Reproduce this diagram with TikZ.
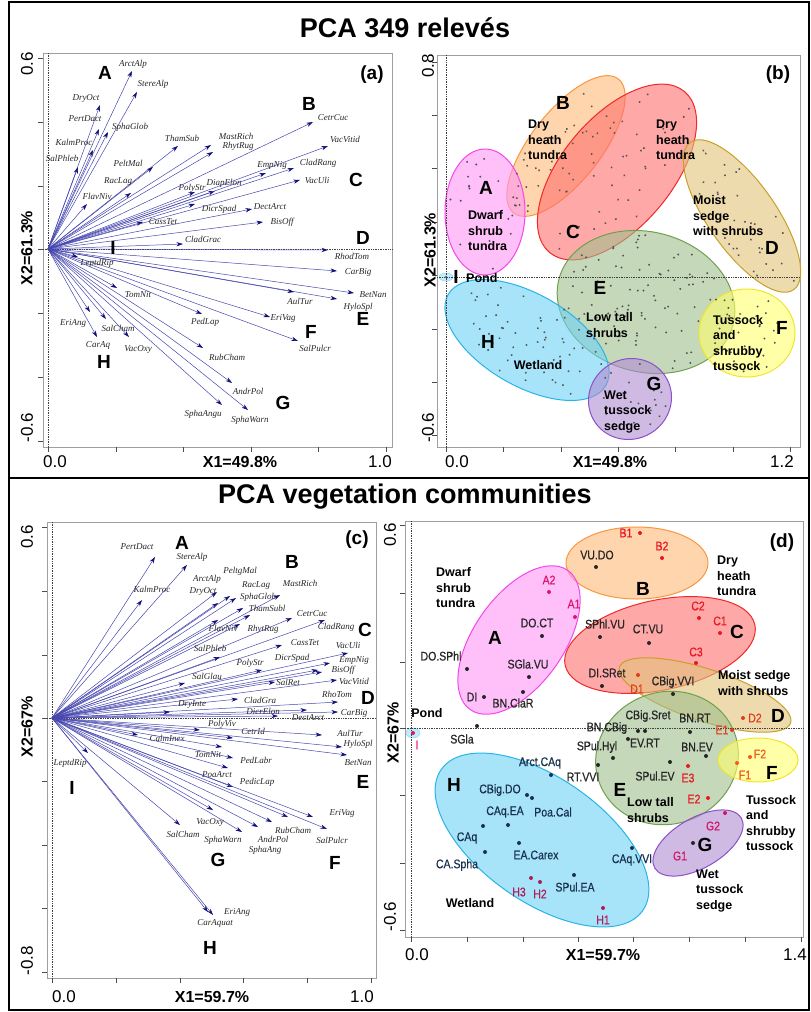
\documentclass[tikz,border=0pt]{standalone}
\usepackage{fontspec}
\setmainfont{Liberation Sans}
\newfontfamily\spfont{Liberation Serif}
\newfontfamily\lblfont{Liberation Sans}[FakeStretch=0.84,FakeBold=0.6]
\usetikzlibrary{arrows.meta}
\definecolor{vecline}{RGB}{70,70,175}
\definecolor{vechead}{RGB}{15,15,120}
\definecolor{ptgray}{RGB}{85,85,85}
\definecolor{fA}{RGB}{255,150,245}\definecolor{dA}{RGB}{245,70,235}
\definecolor{fB}{RGB}{255,185,120}\definecolor{dB}{RGB}{250,150,60}
\definecolor{fC}{RGB}{255,110,110}\definecolor{dC}{RGB}{240,40,40}
\definecolor{fD}{RGB}{225,195,120}\definecolor{dD}{RGB}{200,160,40}
\definecolor{fE}{RGB}{160,190,140}\definecolor{dE}{RGB}{110,160,80}
\definecolor{fF}{RGB}{255,255,110}\definecolor{dF}{RGB}{240,230,40}
\definecolor{fG}{RGB}{175,140,210}\definecolor{dG}{RGB}{140,80,200}
\definecolor{fH}{RGB}{110,210,245}\definecolor{dH}{RGB}{40,180,230}
\definecolor{tA}{RGB}{225,20,110}
\definecolor{tC}{RGB}{230,25,35}
\definecolor{tD}{RGB}{225,60,30}
\definecolor{tF}{RGB}{245,90,30}
\definecolor{tG}{RGB}{210,20,100}
\definecolor{tH}{RGB}{170,30,90}
\definecolor{hblue}{RGB}{25,50,80}
\tikzstyle{vec} = [-{Stealth[length=6.5pt,width=4.2pt,color=vechead]},line width=0.5pt,draw=vecline]

\begin{document}
\begin{tikzpicture}[x=1pt,y=-1pt,
    sp/.style={font=\spfont\itshape\fontsize{9}{10}\selectfont, text=black!85, inner sep=0pt},
    grp/.style={font=\bfseries\fontsize{19}{20}\selectfont, inner sep=0pt},
    ttl/.style={font=\bfseries\fontsize{27}{30}\selectfont, inner sep=0pt},
    axn/.style={font=\fontsize{17}{18}\selectfont, inner sep=0pt},
    axl/.style={font=\bfseries\fontsize{16}{18}\selectfont, inner sep=0pt},
    pan/.style={font=\bfseries\fontsize{19}{20}\selectfont, inner sep=0pt},
    dsc/.style={font=\bfseries\fontsize{12.5}{15.5}\selectfont, align=left, anchor=west, inner sep=0pt},
    cl/.style={font=\lblfont\fontsize{12.5}{14}\selectfont, inner sep=0pt, text=black!85},
    pdot/.style={circle, fill, inner sep=0pt, minimum size=4pt},
    plotbox/.style={draw=gray!75, line width=0.8pt},
    tick/.style={line width=0.7pt, gray!60!black},
    zero/.style={densely dotted, line width=0.7pt, black!75},
    blob/.style={line width=1pt, fill opacity=0.6},
  ]
\useasboundingbox (0,0) rectangle (811,1012);

% outer frame
\draw[line width=2pt] (9,2) rectangle (809,1010);
\draw[line width=2pt] (9,478) -- (809,478);
\node[ttl] (t1) at (405,28) {PCA 349 relevés};
\node[ttl] (t2) at (405,497) {PCA vegetation communities};

%%%%% (a) species vectors, relevés
\draw[plotbox] (43,53) rectangle (392,447);
\foreach \t in {58,122,186,249,313,377,441} \draw[tick] (43,\t) -- (38,\t);
\foreach \t in {48,116,183,251,318,386} \draw[tick] (\t,447) -- (\t,452);
\draw[zero] (48,53) -- (48,447);
\draw[zero] (43,249) -- (392,249);
\node[axn,rotate=90] (ay1) at (27,64) {0.6};
\node[axn,rotate=90] (ay2) at (27,428) {-0.6};
\node[axl,rotate=90] (ayl) at (27,248) {X2=61.3\%};
\node[axn] (ax1) at (55,462) {0.0};
\node[axl] (axl) at (240,462) {X1=49.8\%};
\node[axn] (ax2) at (380,462) {1.0};
\node[pan] (pa) at (372,75) {(a)};

\coordinate (oa) at (48,249);
\foreach \nm/\ex/\ey/\lx/\ly in {
    ArctAlp/132/71/133/64, StereAlp/137/92/153/84, DryOct/100/105/86/98, PertDact/99/129/85/119,
    SphaGlob/108/132/130/127, KalmProc/93/150/74/142, SalPhleb/78/167/62/158, ThamSub/178/146/182/138,
    MastRich/211/145/236/136, RhytRug/213/152/238/146, PeltMal/153/167/128/163, RacLag/131/193/118/182,
    FlavNiv/87/204/97/196, PolyStr/195/192/192/188, DiapElon/215/191/224/183, DicrSpad/195/204/219/209,
    CassTet/143/222/163/222, CladGrac/183/244/203/239, CetrCuc/313/122/333/118, VacVitid/328/146/345/139,
    EmpNig/266/173/272/165, CladRang/294/168/318/163, VacUli/300/180/317/180, DectArct/252/209/270/207,
    BisOff/263/222/282/222, RhodTom/328/250/352/256, CarBig/337/271/358/272, BetNan/354/293/373/295,
    HyloSpl/337/299/358/307, AulTur/294/292/300/301, EriVag/270/317/283/318, SalPulcr/298/341/315/348,
    RubCham/203/348/227/357, AndrPol/232/383/248/391, SphaWarn/248/410/250/420, SphaAngu/222/405/203/414,
    LeptdRip/78/257/97/263, TomNit/117/288/138/295, PedLap/202/314/205/322, EriAng/90/312/73/323,
    SalCham/106/319/118/328, CarAq/97/337/98/345, VacOxy/129/337/138/349}
{
    \coordinate (a\nm) at (\ex,\ey);
    \draw[vec] (oa) -- (a\nm);
    \node[sp] (la\nm) at (\lx,\ly) {\nm};
}
\node[grp] (gaA) at (105,73) {A};
\node[grp] (gaB) at (309,104) {B};
\node[grp] (gaC) at (356,180) {C};
\node[grp] (gaD) at (363,238) {D};
\node[grp] (gaE) at (363,319) {E};
\node[grp] (gaF) at (311,332) {F};
\node[grp] (gaG) at (283,403) {G};
\node[grp] (gaH) at (104,362) {H};
\node[grp] (gaI) at (113,248) {I};

%%%%% (b) relevé scores
\draw[plotbox] (437,55) rectangle (800,447);
\foreach \t in {62,115,168,222,275,329,382,435} \draw[tick] (437,\t) -- (432,\t);
\foreach \t in {446,503,561,618,675,733,790} \draw[tick] (\t,447) -- (\t,452);
\node[axn,rotate=90] (by1) at (428,66) {0.8};
\node[axn,rotate=90] (by2) at (428,428) {-0.6};
\node[axl,rotate=90] (byl) at (430,250) {X2=61.3\%};
\node[axn] (bx1) at (457,462) {0.0};
\node[axl] (bxl) at (610,462) {X1=49.8\%};
\node[axn] (bx2) at (782,462) {1.2};
\node[pan] (pb) at (778,75) {(b)};

\foreach \cx/\cy/\rx/\ry/\rot/\grp in {
    566/146/85/35/52/B, 617/172/105/55/50/C, 742/216/90/34/-55/D, 485/212/40/63/0/A,
    646/302/90/70/-15/E, 747/333/48/44/0/F, 527/340/91/46/-30/H, 630/399/42/40/30/G}
{
    \begin{scope}[shift={(\cx,\cy)},rotate=\rot]
        \filldraw[blob,fill=f\grp,draw=d\grp] (0,0) ellipse [x radius=\rx pt, y radius=\ry pt];
    \end{scope}
}
\filldraw[fill=fH!70,draw=dH!60,fill opacity=.6] (446,277) ellipse [x radius=7pt, y radius=4pt];
\draw[zero] (446,55) -- (446,447);
\draw[zero] (437,277) -- (800,277);

% scatter of the 349 relevés
\pgfmathsetseed{349}
\foreach \cx/\cy/\rx/\ry/\rot/\cnt in {
    566/146/80/32/52/26, 617/172/100/50/50/44, 742/216/85/31/-55/34, 485/212/37/60/0/22,
    646/302/86/66/-15/88, 747/333/44/40/0/30, 527/340/86/43/-30/56, 630/399/38/36/30/22}
{
    \begin{scope}[shift={(\cx,\cy)},rotate=\rot]
        \foreach \k in {1,...,\cnt}{
            \pgfmathsetmacro\rad{sqrt(rnd)}
            \pgfmathsetmacro\ang{360*rnd}
            \fill[ptgray] ({\rx*\rad*cos(\ang)},{\ry*\rad*sin(\ang)}) circle (1.1pt);
        }
    \end{scope}
}
\fill[ptgray] (446,277) circle (1.1pt);

\node[grp] (gbA) at (486,188) {A};
\node[dsc] (dbA) at (468,231) {Dwarf\\shrub\\tundra};
\node[grp] (gbB) at (563,103) {B};
\node[dsc] (dbB) at (528,140) {Dry\\heath\\tundra};
\node[grp] (gbC) at (573,232) {C};
\node[dsc] (dbC) at (656,140) {Dry\\heath\\tundra};
\node[grp] (gbD) at (772,248) {D};
\node[dsc] (dbD) at (693,216) {Moist\\sedge\\with shrubs};
\node[grp] (gbE) at (600,288) {E};
\node[dsc] (dbE) at (586,325) {Low tall\\shrubs};
\node[grp] (gbF) at (782,328) {F};
\node[dsc] (dbF) at (713,343) {Tussock\\and\\shrubby\\tussock};
\node[grp] (gbG) at (654,384) {G};
\node[dsc] (dbG) at (604,412) {Wet\\tussock\\sedge};
\node[grp] (gbH) at (488,342) {H};
\node[dsc,anchor=center] (dbH) at (538,365) {Wetland};
\node[grp] (gbI) at (456,277) {I};
\node[dsc] (dbI) at (466,278) {Pond};

%%%%% (c) species vectors, communities
\draw[plotbox] (47,522) rectangle (376,978);
\foreach \t in {527,591,655,718,781,845,908,972} \draw[tick] (47,\t) -- (42,\t);
\foreach \t in {52,116,180,243,307,371} \draw[tick] (\t,978) -- (\t,983);
\draw[zero] (52,522) -- (52,978);
\draw[zero] (47,718) -- (376,718);
\node[axn,rotate=90] (cy1) at (27,537) {0.6};
\node[axn,rotate=90] (cy2) at (27,961) {-0.8};
\node[axl,rotate=90] (cyl) at (27,727) {X2=67\%};
\node[axn] (cx1) at (64,997) {0.0};
\node[axl] (cxl) at (212,997) {X1=59.7\%};
\node[axn] (cx2) at (362,997) {1.0};
\node[pan] (pc) at (357,540) {(c)};

\coordinate (oc) at (52,718);
\foreach \nm/\ex/\ey/\lx/\ly in {
    PertDact/155/557/137/547, StereAlp/187/565/192/557, KalmProc/142/600/152/589, ArctAlp/217/592/207/579,
    DryOct/218/603/203/591, PeltgMal/230/596/240/571, RacLag/236/598/256/586, SphaGlob/243/608/258/597,
    MastRich/280/595/300/583, ThamSubl/250/615/267/608, FlavNiv/218/620/223/628, RhytRug/240/624/263/629,
    CetrCuc/292/618/312/614, CladRang/325/620/336/627, SalPhleb/220/657/210/648, CassTet/282/645/305/643,
    VacUli/348/653/348/645, PolyStr/262/670/250/663, DicrSpad/318/670/292/658, EmpNig/330/663/354/660,
    BisOff/322/672/343/670, VacVitid/337/680/354/681, SalRet/275/682/288/682, SalGlau/185/683/207/676,
    CladGra/238/699/260/700, RhoTom/338/702/337/694, DryInte/170/712/192/705, DicrElon/307/710/263/711,
    CarBig/338/712/354/713, DectArct/278/716/308/718, PolyViv/200/730/222/724, CetrId/233/738/253/731,
    AulTur/322/735/350/733, HyloSpl/342/747/358/744, BetNan/347/755/358/763, CalmInex/138/735/167/738,
    TomNit/222/747/208/755, PedLabr/233/758/256/760, PoaArct/228/768/217/775, PedicLap/233/787/257/782,
    EriVag/313/817/342/813, RubCham/288/817/293/830, SalPulcr/327/829/332/840, AndrPol/258/827/273/839,
    SphaAng/272/822/265/850, SphaWarn/242/832/223/840, VacOxy/213/810/210/822, SalCham/180/825/183/834,
    LeptdRip/88/753/70/763, EriAng/213/915/237/912, CarAquat/208/912/215/923}
{
    \coordinate (c\nm) at (\ex,\ey);
    \draw[vec] (oc) -- (c\nm);
    \node[sp] (lc\nm) at (\lx,\ly) {\nm};
}
\node[grp] (gcA) at (182,543) {A};
\node[grp] (gcB) at (292,562) {B};
\node[grp] (gcC) at (365,630) {C};
\node[grp] (gcD) at (368,698) {D};
\node[grp] (gcE) at (363,782) {E};
\node[grp] (gcF) at (335,863) {F};
\node[grp] (gcG) at (218,860) {G};
\node[grp] (gcH) at (210,948) {H};
\node[grp] (gcI) at (72,788) {I};

%%%%% (d) community scores
\draw[plotbox] (405,521) rectangle (803,937);
\foreach \t in {525,593,662,728,795,863,930} \draw[tick] (405,\t) -- (400,\t);
\foreach \t in {411,467,523,578,633,689,745,801} \draw[tick] (\t,937) -- (\t,942);
\node[axn,rotate=90] (dy1) at (390,535) {0.6};
\node[axn,rotate=90] (dy2) at (390,917) {-0.6};
\node[axl,rotate=90] (dyl) at (393,733) {X2=67\%};
\node[axn] (dx1) at (417,955) {0.0};
\node[axl] (dxl) at (603,955) {X1=59.7\%};
\node[axn] (dx2) at (795,955) {1.4};
\node[pan] (pd) at (782,543) {(d)};

\foreach \cx/\cy/\rx/\ry/\rot/\grp in {
    637/563/71/36/0/B, 660/645/97/45/12/C, 519/640/85/45/55/A, 705/695/90/26/-18/D,
    667/758/72/66/20/E, 758/760/40/22/0/F, 542/840/123/62/-35/H, 698/843/50/25/30/G}
{
    \begin{scope}[shift={(\cx,\cy)},rotate=\rot]
        \filldraw[blob,fill=f\grp,draw=d\grp] (0,0) ellipse [x radius=\rx pt, y radius=\ry pt];
    \end{scope}
}
\filldraw[fill=fH!70,draw=dH!60,fill opacity=.6] (413,733) ellipse [x radius=7pt, y radius=5pt];
\draw[zero] (411,521) -- (411,937);
\draw[zero] (405,728) -- (803,728);

% communities without a number
\foreach \nm/\px/\py/\lx/\ly [count=\i] in {
    DO.CT/542/636/537/623, DO.SPhl/467/669/441/656, SGla.VU/529/677/528/664, BN.ClaR/523/692/513/703,
    DI/484/697/472/697, SGla/477/726/462/739, VU.DO/596/567/597/555, SPhl.VU/600/637/605/624,
    CT.VU/649/643/648/629, DI.SRet/602/686/607/673, CBig.VVI/673/694/673/682, CBig.Sret/645/731/648/716,
    BN.CBig/638/731/607/728, BN.RT/690/732/695/718, EV.RT/628/739/645/743, SPul.Hyl/613/758/597/747,
    RT.VVI/598/765/583/777, BN.EV/706/756/697/747, SPul.EV/670/762/655/776}
{
    \node[pdot,black!85] (dp\i) at (\px,\py) {};
    \node[cl] (dl\i) at (\lx,\ly) {\nm};
}
\foreach \nm/\px/\py/\lx/\ly [count=\i] in {
    Arct.CAq/551/775/540/763, CBig.DO/527/795/500/790, Poa.Cal/532/798/553/812, CAq.EA/508/825/505/812,
    CAq/483/826/467/838, CA.Spha/485/852/457/865, EA.Carex/519/843/536/855, SPul.EA/574/875/575/887,
    CAq.VVI/632/848/632/860}
{
    \node[pdot,hblue] (hp\i) at (\px,\py) {};
    \node[cl,text=hblue] (hl\i) at (\lx,\ly) {\nm};
}
\node[pdot,black!85] (gp1) at (693,843) {};

% numbered communities
\foreach \nm/\px/\py/\lx/\ly/\col in {
    A2/549/592/549/580/tA, A1/575/617/574/604/tA, B1/640/533/626/533/tC, B2/662/558/662/546/tC,
    C2/699/618/698/606/tC, C1/720/633/720/621/tC, C3/696/663/696/652/tC, D1/638/675/637/689/tD,
    D2/743/718/755/718/tD, E1/732/730/722/730/tD, E2/708/798/694/799/tC, E3/688/766/688/778/tC,
    F1/737/763/745/775/tF, F2/750/757/760/754/tF, G2/725/813/713/826/tG, H1/603/908/603/920/tH,
    H2/540/882/540/894/tH, H3/531/878/519/892/tH, I/413/733/417/745/tA}
{
    \node[pdot,\col] (np\nm) at (\px,\py) {};
    \node[cl,text=\col] (nl\nm) at (\lx,\ly) {\nm};
}
\node[cl,text=tG] (nlG1) at (680,856) {G1};

\node[grp] (gdA) at (495,638) {A};
\node[dsc] (ddA) at (436,588) {Dwarf\\shrub\\tundra};
\node[grp] (gdB) at (643,589) {B};
\node[dsc] (ddB) at (717,576) {Dry\\heath\\tundra};
\node[grp] (gdC) at (737,632) {C};
\node[grp] (gdD) at (778,716) {D};
\node[dsc] (ddD) at (718,683) {Moist sedge\\with shrubs};
\node[grp] (gdE) at (620,790) {E};
\node[dsc] (ddE) at (627,810) {Low tall\\shrubs};
\node[grp] (gdF) at (772,773) {F};
\node[dsc] (ddF) at (746,823) {Tussock\\and\\shrubby\\tussock};
\node[grp] (gdG) at (705,845) {G};
\node[dsc] (ddG) at (696,891) {Wet\\tussock\\sedge};
\node[grp] (gdH) at (454,785) {H};
\node[dsc,anchor=center] (ddH) at (470,903) {Wetland};
\node[dsc,anchor=center] (ddI) at (427,713) {Pond};
\end{tikzpicture}
\end{document}
